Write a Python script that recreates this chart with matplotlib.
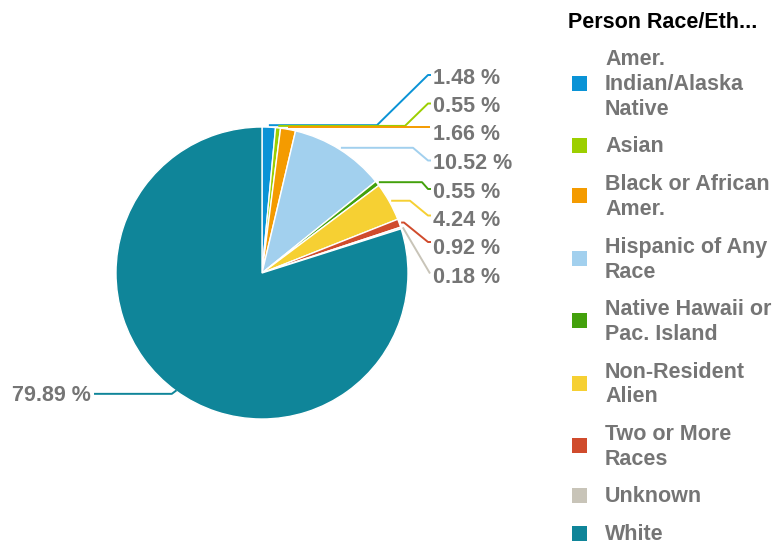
import numpy as np
import matplotlib
matplotlib.use('Agg')
import matplotlib.pyplot as plt
from matplotlib.patches import Rectangle

plt.rcParams['font.family'] = ['Liberation Sans', 'DejaVu Sans']

# Dati
categories = ['Amer. Indian/Alaska Native', 'Asian', 'Black or African Amer.',
              'Hispanic of Any Race', 'Native Hawaii or Pac. Island',
              'Non-Resident Alien', 'Two or More Races', 'Unknown', 'White']
legend_lines = [['Amer.', 'Indian/Alaska', 'Native'], ['Asian'],
                ['Black or African', 'Amer.'], ['Hispanic of Any', 'Race'],
                ['Native Hawaii or', 'Pac. Island'], ['Non-Resident', 'Alien'],
                ['Two or More', 'Races'], ['Unknown'], ['White']]
values = [1.48, 0.55, 1.66, 10.52, 0.55, 4.24, 0.92, 0.18, 79.89]
colors = ['#0a93d6', '#9ccf00', '#f49b00', '#a2d0ee', '#43a10c',
          '#f6d033', '#d04b2c', '#c8c4b8', '#0f8599']

gray = '#757575'
cx, cy, r = 262, 273, 146

fig = plt.figure(figsize=(7.8, 5.45), dpi=100)
ax = fig.add_axes([0, 0, 1, 1])
ax.pie(values, colors=colors, center=(cx, cy), radius=r, startangle=-90,
       counterclock=True, frame=True,
       wedgeprops=dict(edgecolor='white', linewidth=1))
ax.set_xlim(0, 780)
ax.set_ylim(545, 0)
ax.set_aspect('equal')
ax.axis('off')

# angoli medi (in senso orario dall'alto)
frac = np.array(values) / np.sum(values)
mid = (np.cumsum(frac) - frac / 2) * 2 * np.pi

def edge(theta, rr):
    return cx + rr * np.sin(theta), cy - rr * np.cos(theta)

# etichette a destra
label_y = [76 + 28.5 * i for i in range(8)]
elbow_x = [377, 405, None, 413, 422, 410, 404, None]
end_dy = [-1, -1, -5, -1, -1, -3, -5, -2]
for i in range(8):
    ex, ey = edge(mid[i], r + 2)
    ty = label_y[i] + end_dy[i]
    if elbow_x[i] is None:
        if i == 2:
            xs, ys = [ex, 430], [ey, ey]
        else:
            xs, ys = [ex, 430], [ey, ty]
    else:
        xs, ys = [ex, elbow_x[i], 428, 431], [ey, ey, ty, ty]
    ax.plot(xs, ys, color=colors[i], lw=1.4, solid_capstyle='butt')
    ax.text(433, label_y[i] + 2, f'{values[i]:.2f} %', fontsize=15.5,
            fontweight='bold', color=gray, ha='left', va='center')

# White
ex, ey = edge(mid[8], r)
ax.plot([ex, ex - 4, 95], [ey, ey + 3, ey + 3], color=colors[8], lw=1.4)
ax.text(91, ey + 5, f'{values[8]:.2f} %', fontsize=15.5, fontweight='bold',
        color=gray, ha='right', va='center')

# legenda
ax.text(568, 22, 'Person Race/Eth...', fontsize=15.5, fontweight='bold',
        color='black', ha='left', va='center')
y = 58
for lines, c in zip(legend_lines, colors):
    n = len(lines)
    yc = y + (n - 1) * 25 / 2
    ax.add_patch(Rectangle((572, yc - 7.5), 15, 15, facecolor=c,
                           edgecolor='none'))
    for k, t in enumerate(lines):
        ax.text(605, y + k * 25 + 1.5, t, fontsize=15.5, fontweight='bold',
                color=gray, ha='left', va='center')
    y += (n - 1) * 25 + 37.5

fig.savefig('out.png', dpi=100)
